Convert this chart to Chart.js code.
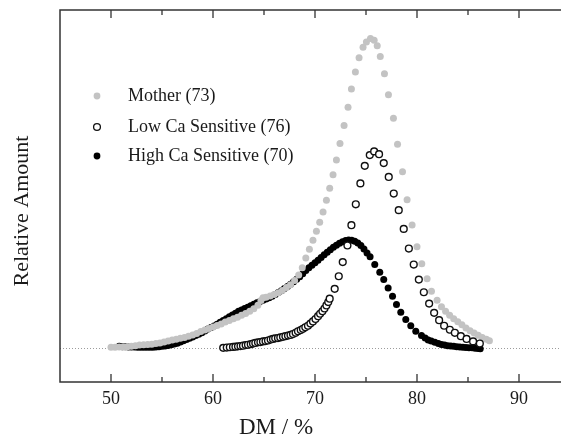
<!DOCTYPE html>
<html>
<head>
<meta charset="utf-8">
<script src="https://cdn.jsdelivr.net/npm/chart.js@4/dist/chart.umd.min.js"></script>
<style>
  html, body { margin: 0; padding: 0; background: #fff; overflow: hidden; }
  #dmChart { display: block; }
</style>
</head>
<body>
<canvas id="dmChart" width="570" height="437"></canvas>
<script>
// DM axis ticks (labelled) and tick marks on the frame
const xTicks = [50, 60, 70, 80, 90];
const xTickMarks = [50, 55, 60, 65, 70, 75, 80, 85, 90];

// Mother (73) - grey dots
const motherX = [50.0, 50.4, 50.8, 51.2, 51.6, 52.0, 52.4, 52.8, 53.2, 53.6, 54.0, 54.4, 54.8, 55.2, 55.6, 56.0,
  56.4, 56.8, 57.2, 57.6, 58.0, 58.4, 58.8, 59.2, 59.6, 60.0, 60.4, 60.8, 61.2, 61.6, 62.0, 62.4, 62.8, 63.2,
  63.6, 64.0, 64.4, 64.7, 64.9, 65.2, 65.6, 66.0, 66.4, 66.8, 67.2, 67.6, 68.0, 68.4, 68.75, 69.1, 69.45, 69.8,
  70.14, 70.46, 70.79, 71.12, 71.44, 71.77, 72.1, 72.45, 72.85, 73.24, 73.57, 73.96, 74.32, 74.71, 75.04, 75.44,
  75.8, 76.1, 76.4, 76.81, 77.2, 77.69, 78.09, 78.58, 79.03, 79.52, 80.0, 80.47, 80.99, 81.42, 81.97, 82.4, 82.8,
  83.2, 83.6, 84.0, 84.4, 84.8, 85.2, 85.6, 86.0, 86.4, 86.8, 87.1];
const motherY = [0.3, 0.3, 0.4, 0.4, 0.5, 0.6, 0.8, 1.0, 1.1, 1.2, 1.3, 1.5, 1.7, 2.0, 2.3, 2.7,
  2.9, 3.2, 3.5, 3.9, 4.3, 4.8, 5.4, 5.9, 6.4, 6.9, 7.4, 7.9, 8.5, 9.0, 9.6, 10.1, 10.7, 11.3,
  12.0, 12.8, 14.0, 15.5, 16.4, 16.6, 17.0, 17.5, 18.0, 18.8, 19.7, 20.6, 22.0, 23.8, 26.2, 29.3, 32.2, 35.1,
  38.0, 41.0, 44.3, 48.1, 52.0, 56.4, 61.2, 66.6, 72.4, 78.4, 84.3, 89.8, 94.5, 97.9, 99.6, 100.7,
  100.2, 98.4, 94.9, 89.3, 82.4, 74.8, 66.3, 57.4, 48.3, 40.1, 33.0, 27.5, 22.6, 18.5, 15.6, 13.5, 12.0,
  10.7, 9.6, 8.6, 7.6, 6.6, 5.7, 4.9, 4.2, 3.5, 2.9, 2.4];

// Low Ca Sensitive (76) - open circles
const lowX = [61.0, 61.35, 61.65, 61.96, 62.2, 62.45, 62.7, 62.94, 63.2, 63.43, 63.7, 63.92, 64.15, 64.41, 64.65,
  64.9, 65.15, 65.39, 65.65, 65.88, 66.1, 66.37, 66.6, 66.86, 67.1, 67.35, 67.6, 67.84, 68.1, 68.33, 68.6, 68.82,
  69.05, 69.31, 69.55, 69.8, 70.05, 70.3, 70.5, 70.73, 70.93, 71.12, 71.3, 71.44, 71.93, 72.33, 72.72, 73.18,
  73.57, 74.0, 74.45, 74.88, 75.37, 75.8, 76.28, 76.74, 77.23, 77.72, 78.21, 78.7, 79.2, 79.68, 80.18, 80.67,
  81.19, 81.68, 82.17, 82.66, 83.22, 83.71, 84.3, 84.86, 85.5, 86.16];
const lowY = [0.1, 0.2, 0.3, 0.4, 0.5, 0.6, 0.7, 0.8, 1.0, 1.1, 1.3, 1.5, 1.7, 1.9, 2.0,
  2.2, 2.3, 2.5, 2.8, 3.0, 3.2, 3.3, 3.5, 3.7, 3.9, 4.1, 4.3, 4.6, 5.0, 5.5, 5.9, 6.3,
  6.8, 7.3, 8.0, 8.7, 9.5, 10.4, 11.2, 12.0, 12.9, 13.9, 15.0, 16.1, 19.3, 23.4, 28.0, 33.4,
  40.0, 46.8, 53.6, 59.3, 62.8, 64.0, 63.1, 60.2, 55.7, 50.3, 44.9, 38.8, 32.4, 27.2, 22.3, 18.2,
  14.5, 11.5, 9.1, 7.3, 6.0, 5.0, 3.9, 3.0, 2.2, 1.5];

// High Ca Sensitive (70) - black dots
const highX = [50.8, 51.1, 51.4, 51.7, 52.0, 52.3, 52.6, 52.9, 53.2, 53.5, 53.8, 54.1, 54.4, 54.7, 55.0, 55.3,
  55.6, 55.9, 56.2, 56.5, 56.8, 57.1, 57.4, 57.7, 58.0, 58.3, 58.6, 58.9, 59.2, 59.5, 59.8, 60.1, 60.4, 60.7,
  61.0, 61.3, 61.6, 61.9, 62.2, 62.5, 62.8, 63.1, 63.4, 63.7, 64.0, 64.3, 64.6, 64.9, 65.2, 65.5, 65.8, 66.1,
  66.4, 66.7, 67.0, 67.3, 67.6, 67.9, 68.2, 68.5, 68.8, 69.1, 69.4, 69.7, 70.0, 70.3, 70.6, 70.9, 71.2, 71.5,
  71.8, 72.1, 72.4, 72.7, 73.0, 73.3, 73.6, 73.9, 74.2, 74.5, 74.8, 75.1, 75.4, 75.86, 76.35, 76.74, 77.17,
  77.6, 77.99, 78.41, 78.9, 79.39, 79.88, 80.44, 80.8, 81.1, 81.4, 81.75, 82.1, 82.4, 82.7, 83.0, 83.3, 83.6,
  83.9, 84.2, 84.5, 84.8, 85.1, 85.4, 85.7, 86.0, 86.2];
const highY = [0.6, 0.5, 0.5, 0.4, 0.4, 0.4, 0.3, 0.3, 0.3, 0.3, 0.3, 0.3, 0.4, 0.5, 0.6, 0.7,
  0.9, 1.1, 1.4, 1.6, 2.0, 2.4, 2.8, 3.2, 3.6, 4.1, 4.5, 5.0, 5.6, 6.2, 6.7, 7.2, 7.8, 8.4,
  9.0, 9.6, 10.2, 10.8, 11.4, 12.0, 12.4, 12.9, 13.3, 13.8, 14.3, 14.8, 15.2, 15.6, 16.0, 16.4, 16.9, 17.5,
  18.1, 18.7, 19.4, 20.1, 20.8, 21.6, 22.4, 23.2, 24.2, 25.3, 26.2, 27.0, 27.8, 28.6, 29.5, 30.4, 31.2, 32.0,
  32.8, 33.5, 34.1, 34.6, 35.0, 35.2, 35.1, 34.8, 34.2, 33.4, 32.3, 31.0, 29.7, 27.2, 24.7, 22.3, 19.6,
  16.9, 14.2, 11.7, 9.3, 7.3, 5.5, 4.1, 3.3, 2.7, 2.3, 1.9, 1.5, 1.2, 1.0, 0.8, 0.7, 0.6,
  0.5, 0.4, 0.3, 0.2, 0.1, 0.1, 0.0, -0.1, -0.2];

const serif = '"Liberation Serif", "Times New Roman", serif';
const toPoints = (xs, ys) => xs.map((v, i) => ({ x: v, y: ys[i] }));

// frame with inward ticks, dotted zero line, legend and axis titles
const framePlugin = {
    id: 'frame',
    beforeDatasetsDraw(chart) {
        const { ctx, chartArea: a, scales: { y } } = chart;
        const y0 = Math.round(y.getPixelForValue(0)) + 0.5;
        ctx.save();
        ctx.strokeStyle = '#9c9c9c';
        ctx.lineWidth = 1;
        ctx.setLineDash([1, 2]);
        ctx.beginPath();
        ctx.moveTo(a.left, y0);
        ctx.lineTo(a.right, y0);
        ctx.stroke();
        ctx.restore();
    },
    afterDraw(chart) {
        const { ctx, chartArea: a, scales: { x } } = chart;
        ctx.save();
        ctx.strokeStyle = '#333';
        ctx.lineWidth = 1.5;
        ctx.strokeRect(a.left, a.top, a.right - a.left, a.bottom - a.top);

        ctx.lineWidth = 1.3;
        xTickMarks.forEach(v => {
            const px = x.getPixelForValue(v);
            const len = v % 10 === 0 ? 8 : 5;
            ctx.beginPath();
            ctx.moveTo(px, a.bottom);
            ctx.lineTo(px, a.bottom - len);
            ctx.moveTo(px, a.top);
            ctx.lineTo(px, a.top + len);
            ctx.stroke();
        });

        // legend
        const rows = [
            { label: 'Mother (73)', fill: '#c3c3c3', stroke: null, y: 96 },
            { label: 'Low Ca Sensitive (76)', fill: '#fff', stroke: '#111', y: 127 },
            { label: 'High Ca Sensitive (70)', fill: '#000', stroke: null, y: 156 }
        ];
        ctx.font = '18px ' + serif;
        ctx.textBaseline = 'middle';
        ctx.textAlign = 'left';
        rows.forEach(r => {
            ctx.beginPath();
            ctx.arc(97, r.y, 3.4, 0, Math.PI * 2);
            ctx.fillStyle = r.fill;
            ctx.fill();
            if (r.stroke) {
                ctx.strokeStyle = r.stroke;
                ctx.lineWidth = 1.3;
                ctx.stroke();
            }
            ctx.fillStyle = '#1a1a1a';
            ctx.fillText(r.label, 128, r.y);
        });

        // axis titles
        ctx.fillStyle = '#1a1a1a';
        ctx.textAlign = 'center';
        ctx.font = '23px ' + serif;
        ctx.fillText('DM / %', 276, 428);
        ctx.translate(22, 211);
        ctx.rotate(-Math.PI / 2);
        ctx.font = '22px ' + serif;
        ctx.fillText('Relative Amount', 0, 0);
        ctx.restore();
    }
};

const dmCtx = document.getElementById('dmChart').getContext('2d');
const dmChart = new Chart(dmCtx, {
    type: 'scatter',
    data: {
        datasets: [{
            label: 'Mother (73)',
            data: toPoints(motherX, motherY),
            backgroundColor: '#c3c3c3',
            borderWidth: 0,
            pointRadius: 3.5,
            order: 1
        }, {
            label: 'Low Ca Sensitive (76)',
            data: toPoints(lowX, lowY),
            backgroundColor: '#fff',
            borderColor: '#111',
            borderWidth: 1.4,
            pointRadius: 3.4,
            order: 0
        }, {
            label: 'High Ca Sensitive (70)',
            data: toPoints(highX, highY),
            backgroundColor: '#000',
            borderWidth: 0,
            pointRadius: 3.5,
            order: 2
        }]
    },
    options: {
        responsive: false,
        animation: false,
        events: [],
        layout: { autoPadding: false, padding: { top: 10, right: 0, left: 0, bottom: 0 } },
        plugins: {
            legend: { display: false },
            tooltip: { enabled: false }
        },
        scales: {
            x: {
                type: 'linear',
                min: 45,
                max: 95,
                border: { display: false },
                grid: { display: false, drawTicks: false },
                ticks: {
                    font: { family: serif, size: 18 },
                    color: '#1a1a1a',
                    padding: 6
                },
                afterBuildTicks: scale => { scale.ticks = xTicks.map(v => ({ value: v })); },
                afterFit: scale => { scale.height = 55; }
            },
            y: {
                min: -11,
                max: 110,
                border: { display: false },
                grid: { display: false, drawTicks: false },
                ticks: { display: false },
                afterFit: scale => { scale.width = 60; }
            }
        }
    },
    plugins: [framePlugin]
});
</script>
</body>
</html>
